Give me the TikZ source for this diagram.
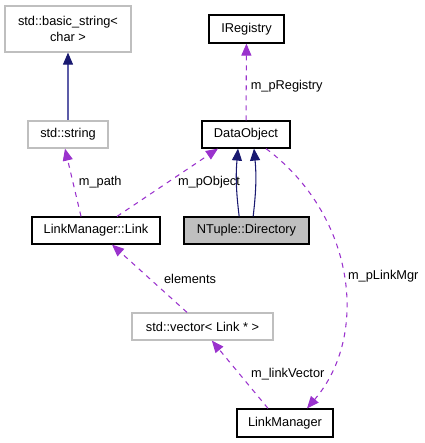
\documentclass[tikz,border=0pt]{standalone}
\usepackage{fontspec}
\setmainfont{Liberation Sans}
\usetikzlibrary{arrows.meta}
\definecolor{usecol}{HTML}{9A32CD}
\definecolor{inhcol}{HTML}{191970}
\definecolor{inhline}{HTML}{5C5CA8}
\definecolor{grayline}{HTML}{BFBFBF}

\begin{document}
\begin{tikzpicture}[x=0.75pt, y=-0.75pt,
    every node/.style={font=\fontsize{9.6}{11.5}\selectfont, inner sep=0pt, align=center},
    cls/.style={draw=black, line width=0.9pt, minimum height=20.25pt, fill=white},
    ext/.style={draw=grayline, line width=0.9pt, minimum height=20.25pt, fill=white},
    tip/.style={-{Triangle[length=9pt, width=7.5pt]}},
    inh/.style={draw=inhcol, line width=0.8pt, tip},
    usage/.style={draw=usecol, line width=0.8pt, dash pattern=on 3.75pt off 3.75pt, tip},
    lbl/.style={anchor=west, font=\fontsize{9.6}{11.5}\selectfont}]
    \useasboundingbox (0,0) rectangle (425,443);
    % classes
    \node[ext, minimum width=94.5pt, minimum height=34.5pt] (bstr) at (68,29) {std::basic\_string<\\char >};
    \node[cls, minimum width=56.25pt, minimum height=21pt] (ireg) at (246.5,29) {IRegistry};
    \node[ext, minimum width=60pt] (str) at (68,134.5) {std::string};
    \node[cls, minimum width=66pt] (dobj) at (246,134.5) {DataObject};
    \node[cls, minimum width=96pt] (link) at (96,230.5) {LinkManager::Link};
    \node[cls, minimum width=93.75pt, fill=grayline] (dir) at (246.5,230.5) {NTuple::Directory};
    \node[ext, minimum width=105.75pt] (vec) at (202.5,326.5) {std::vector< Link * >};
    \node[cls, minimum width=72pt, minimum height=21pt] (lmgr) at (285,423) {LinkManager};
    % inheritance
    \draw[inh, draw=inhline, {Triangle[length=9pt, width=7.5pt, color=inhcol]}-] (bstr) -- (str);
    \draw[inh] ([xshift=-5.5pt]dir.north) to[bend left=6] ([xshift=-6pt]dobj.south);
    \draw[inh] ([xshift=5pt]dir.north) to[bend right=6] ([xshift=6pt]dobj.south);
    % usage
    \draw[usage] (dobj) -- node[lbl, xshift=3pt, yshift=-3pt] {m\_pRegistry} (ireg);
    \draw[usage] ([xshift=-11.25pt]link.north) -- node[lbl, xshift=4pt] {m\_path} ([xshift=-2.25pt]str.south);
    \draw[usage] ([xshift=15.75pt]link.north) -- node[lbl, xshift=7.5pt] {m\_pObject} ([xshift=-21pt]dobj.south);
    \draw[usage] ([xshift=15pt]dobj.south) .. controls (355,215) and (370,335) .. node[lbl, xshift=3pt] {m\_pLinkMgr} ([xshift=16.5pt]lmgr.north);
    \draw[usage] ([xshift=-11.6pt]vec.north) -- node[lbl, xshift=10.5pt] {elements} ([xshift=12pt]link.south);
    \draw[usage] ([xshift=-12.75pt]lmgr.north) -- node[lbl, xshift=8pt] {m\_linkVector} ([xshift=7pt]vec.south);
\end{tikzpicture}
\end{document}
